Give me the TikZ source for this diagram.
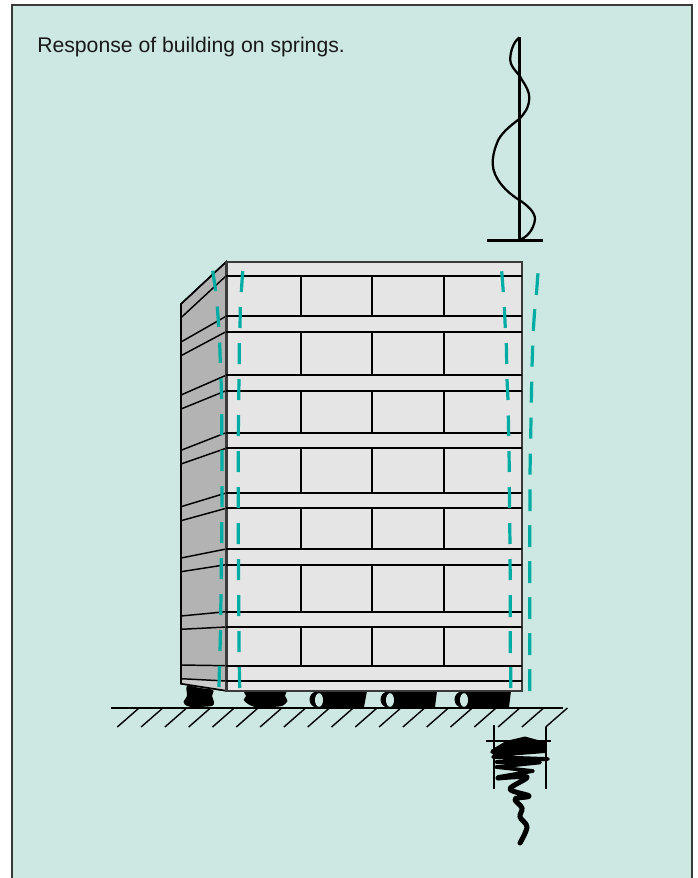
\documentclass[tikz,border=0pt]{standalone}
\usepackage{fontspec}
\setmainfont{Liberation Sans}
\definecolor{panelbg}{HTML}{CDE8E3}
\definecolor{sidegrey}{HTML}{B3B3B3}
\definecolor{lowgrey}{HTML}{CCCCCC}
\definecolor{frontgrey}{HTML}{E5E5E5}
\definecolor{dashteal}{HTML}{00ADA5}
\definecolor{framegrey}{HTML}{3A3A3A}
\tikzset{
  px/.style={x=0.75pt,y=-0.75pt},
  bar/.style={black,line width=1.3pt},
  thinbar/.style={black,line width=1.1pt},
  tealdash/.style={dashteal,line width=2.4pt},
  blob/.style={fill=black,draw=none},
  holefill/.style={fill=panelbg,draw=none},
  hatch/.style={black,line width=1.05pt},
  springline/.style={black,line width=3.8pt,line cap=round,line join=round},
}
\begin{document}
\begin{tikzpicture}[px]
\useasboundingbox (0,0) rectangle (698,878);
\fill[white] (0,0) rectangle (698,878);
% panel
\draw[fill=panelbg,draw=framegrey,line width=1.3pt] (12,4.7) rectangle (692,890);
\node[anchor=base west,inner sep=0pt,text=black!90,font=\fontsize{15.9pt}{18pt}\selectfont] (caption) at (37,52.5) {Response of building on springs.};

% mode shape
\draw[black,line width=2.1pt] (519.3,37) -- (519.3,240.7);
\draw[black,line width=2.1pt] (487.3,240.7) -- (543.3,240.7);
\draw[black,line width=1.7pt] (519.3,37.5) .. controls (512,43) and (510,55) .. (510.3,60)
 .. controls (510.5,68) and (519,73) .. (522,80)
 .. controls (526,86) and (529.5,92) .. (529.3,98)
 .. controls (529,108) and (524,114) .. (519.3,119)
 .. controls (510,126) and (500,134) .. (497,143)
 .. controls (494,150) and (492.5,158) .. (492.7,164)
 .. controls (493,178) and (506,192) .. (519.3,200)
 .. controls (527,205) and (535,212) .. (535,219)
 .. controls (534,230) and (526,238) .. (520,239.5);

% bearings
\fill[blob] plot[smooth cycle,tension=0.5] coordinates {(187,686)(200,688)(213,690)(212,696)(214,702)(212,706)(195,707)(187,706)(183.5,702)(187,696)};
\fill[blob] plot[smooth cycle,tension=0.4] coordinates {(245,691)(270,691)(286,691)(285,696)(287.5,701)(282,706)(270,707)(255,707)(248,704)(243.7,700)(246,696)};
\foreach \hx/\bx/\cx in {319/367/364, 390/437/435, 464/511/509}{
  \fill[blob] (\hx,691) -- (\bx,691) -- (\cx,707) -- (\hx,707) -- cycle;
  \fill[blob] (\hx-2,699.5) ellipse[x radius=7.5,y radius=8];
  \fill[holefill] (\hx,700) ellipse[x radius=4,y radius=6.8];
}

% side face
\draw[fill=sidegrey,draw=black,line width=1.1pt] (181,304) -- (226,262) -- (226,690.7) -- (181,683.7) -- cycle;
\fill[lowgrey] (181.6,678.9) -- (226,681) -- (226,690.2) -- (181.6,683.7) -- cycle;
\foreach \a/\b in {317.7/276,342/316.3,355.7/331.7,395/375.3,409/390.7,450.3/432.7,464/448.3,506.7/493,520.7/508.3,558/549,571.7/564.7,616/611.7,629.3/627,665/665.7,678.7/681}{
  \draw[thinbar] (181,\a) -- (226,\b);
}
\draw[black,line width=1.2pt] (181,304) -- (226,262) -- (226,690.7) -- (181,683.7) -- cycle;

% front face
\draw[fill=frontgrey,draw=framegrey,line width=1.6pt] (226.5,262) rectangle (522,690.7);
\foreach \y in {276,316.3,331.7,375.3,390.7,432.7,448.3,493,508.3,549,564.7,611.7,627,665.7,681}{
  \draw[bar] (226,\y) -- (522,\y);
}
\foreach \t/\u in {276/316.3,331.7/375.3,390.7/432.7,448.3/493,508.3/549,564.7/611.7,627/665.7}{
  \foreach \x in {301,372,444}{
    \draw[thinbar] (\x,\t) -- (\x,\u);
  }
}

% deflected outlines
\draw[tealdash] (212.7,270.7)--(215.7,291) (217.3,306.5)--(218.7,327) (219.7,342.5)--(220.3,363) (221,378.5)--(221.7,399) (221.7,414)--(221.7,435) (222,450)--(222,471) (222,486)--(222,507) (221.7,522)--(221.7,543) (221.3,558)--(221.3,579) (221,594)--(220.7,615) (220.5,630)--(220,651) (219.5,666)--(219,687);
\draw[tealdash] (242.7,271)--(241.3,292) (240.3,307)--(240,328) (239.3,343)--(239.3,364) (239,379)--(238.7,400) (238.5,415)--(238.3,436) (238.3,451)--(238.3,472) (238.3,487)--(238.3,508) (238.3,523)--(238.3,544) (238.5,559)--(238.5,580) (238.7,595)--(238.7,616) (239,631)--(239,652) (239.3,667)--(239.7,688);
\draw[tealdash] (501.7,271.3)--(503.3,292) (504.3,307)--(505.3,328) (506.3,343)--(506.7,364) (507,379)--(508,400) (508.3,415.5)--(508.7,436) (509,451)--(509.3,472) (509.3,487)--(509.6,508) (509.7,523)--(510,544) (510,559)--(510.3,580) (510.3,595)--(510.3,617) (510.3,631)--(510.3,653) (510.7,667)--(510.7,688);
\draw[tealdash] (538,273.3)--(536.3,295) (534.7,309)--(533.3,331) (532.7,345.7)--(532,366.7) (531.7,381.7)--(531.3,402.7) (531,417.7)--(530.7,438.7) (530.3,453.7)--(530,474.7) (530,489.3)--(530,511) (529.7,525)--(529.7,547) (529.7,561)--(529.7,583) (529.7,597)--(529.7,619) (529.7,633)--(529.7,655) (529.7,669)--(529.7,691);

% ground
\draw[black,line width=1.4pt] (111,707.7) -- (563,707.7);
\foreach \k in {0,...,18}{
  \draw[hatch] ({117.3+23.8*\k},727) -- ({139+23.8*\k},708);
}

% spring frame
\draw[black,line width=1.5pt] (494,725) -- (494,789);
\draw[black,line width=1.5pt] (546,727) -- (546,789);
\draw[black,line width=1.5pt] (485.7,741) -- (551,741);

% spring
\fill[blob] (506,741) -- (525,736.5) -- (545,742) -- (545,753) -- (494,757) -- (491,750) -- cycle;
\draw[black,line width=2.8pt,line cap=round,line join=round] (492,752) -- (545,748) -- (493,757) -- (548,759) -- (496,762) -- (540,762.5) -- (496,767) -- (533,771) -- (498,777);
\draw[springline] plot[smooth,tension=0.55] coordinates {
 (498,778)(527,777)(510,789)(529,796)(515,799)(522,808)(520,817)(527,827)(520,843)};
\end{tikzpicture}
\end{document}
